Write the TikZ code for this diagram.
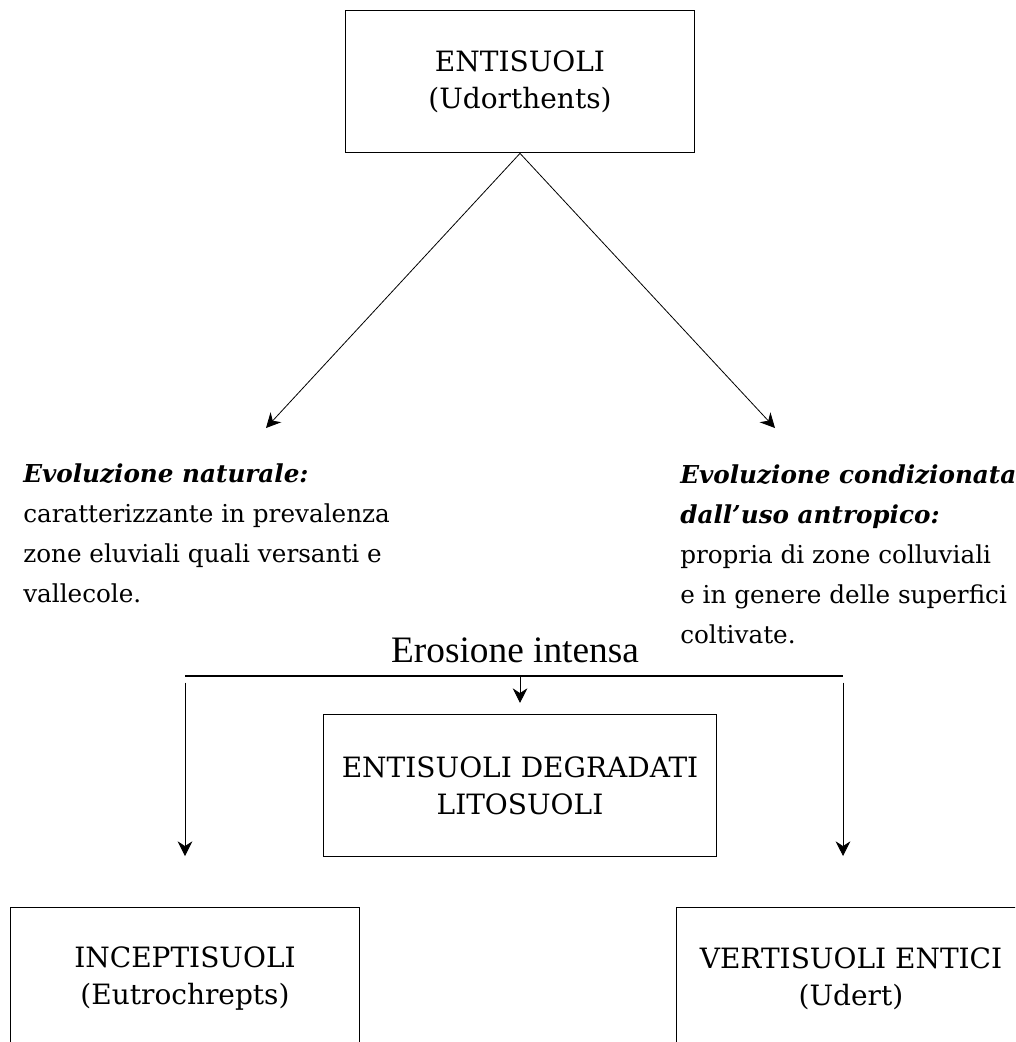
\documentclass[tikz,border=0pt]{standalone}
\usepackage{fontspec}
\setmainfont{DejaVu Serif}
\newfontfamily\timesfont{Liberation Serif}
\usetikzlibrary{arrows.meta}

\begin{document}
\begin{tikzpicture}[x=0.75pt,y=-0.75pt,
    box/.style={rectangle,draw,line width=0.8pt,minimum height=107pt,align=center,
      font=\fontsize{21}{28}\selectfont},
    note/.style={anchor=north west,align=left,inner sep=0pt,
      font=\fontsize{18.5}{30}\selectfont},
    arr/.style={-{Stealth[length=11pt,width=11pt]},line width=0.6pt}]
      \useasboundingbox (0,0) rectangle (1015,1042);
      \clip (0,0) rectangle (1015,1042);
      % soil classes
      \node[box,minimum width=262pt] (entisuoli) at (520,81.5) {ENTISUOLI\\(Udorthents)};
      \node[box,minimum width=295pt] (degradati) at (520,785.5) {ENTISUOLI DEGRADATI\\LITOSUOLI};
      \node[box,minimum width=262pt] (inceptisuoli) at (185,978.5) {INCEPTISUOLI\\(Eutrochrepts)};
      \node[box,minimum width=262pt] (vertisuoli) at (851,978.5) {VERTISUOLI ENTICI\\(Udert)};
      % evolution texts
      \node[note] (naturale) at (23,463) {\textbf{\textit{Evoluzione naturale:}}\\
        caratterizzante in prevalenza\\zone eluviali quali versanti e\\vallecole.};
      \node[note] (antropico) at (680,464) {\textbf{\textit{Evoluzione condizionata}}\\
        \textbf{\textit{dall’uso antropico:}}\\propria di zone colluviali\\
        e in genere delle superfici\\coltivate.};
      \node[anchor=base,font=\timesfont\fontsize{28}{32}\selectfont] (erosione) at (515,662) {Erosione intensa};
      % arrows
      \coordinate (natTip) at (266,428);
      \coordinate (antTip) at (775,428);
      \draw[arr] (entisuoli.south) -- (natTip);
      \draw[arr] (entisuoli.south) -- (antTip);
      \coordinate (splitL) at (185,676);
      \coordinate (splitM) at (520,676);
      \coordinate (splitR) at (843,676);
      \draw[line width=0.8pt] (splitL) -- (splitR);
      \draw[arr,shorten >=8pt] (splitM) -- (degradati.north);
      \draw[arr,shorten <=5pt] (splitL) -- ++(0,180) coordinate (leftTip);
      \draw[arr,shorten <=5pt] (splitR) -- ++(0,180) coordinate (rightTip);
\end{tikzpicture}
\end{document}
